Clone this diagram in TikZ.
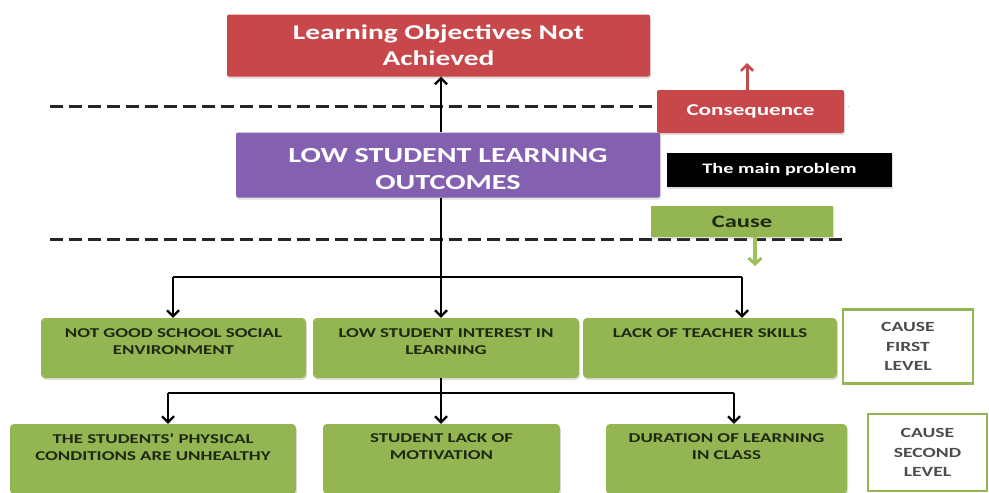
\documentclass[tikz,border=0pt]{standalone}
\usepackage{fontspec}
\setmainfont{Carlito}[FakeStretch=1.4]
\usetikzlibrary{arrows.meta,shadows}

\definecolor{leafgreen}{HTML}{93B552}
\definecolor{deepred}{HTML}{C8474B}
\definecolor{violet}{HTML}{8460B0}
\definecolor{inkgreen}{HTML}{1E2812}
\definecolor{cuegreen}{HTML}{9CC25A}

\tikzset{
  panel/.style={draw=none, inner sep=0pt, rounded corners=2pt,
    drop shadow={shadow xshift=1pt, shadow yshift=-2pt, opacity=0.25}},
  causebox/.style={panel, fill=leafgreen, rounded corners=4pt},
  causetext/.style={anchor=north, inner sep=0pt, align=center, text=inkgreen,
    font=\fontsize{13.5}{17}\selectfont\bfseries},
  levelbox/.style={draw=leafgreen, line width=2.5pt, fill=white, inner sep=0pt,
    align=center, text=black!70, font=\fontsize{14}{19.5}\selectfont\bfseries},
  conn/.style={line width=2.4pt, black},
  tip/.style={conn, -{Straight Barb[length=6pt, width=12pt, line width=2.2pt]}},
  divider/.style={line width=3pt, black!85, dash pattern=on 13pt off 6pt},
}

\begin{document}
\begin{tikzpicture}[x=1pt, y=-1pt]
\useasboundingbox (0,0) rectangle (989,493);

% dashed dividers
\coordinate (d1a) at (50,106);  \coordinate (d1b) at (848,106);
\coordinate (d2a) at (50,239);  \coordinate (d2b) at (845,239);
\draw[divider] (d1a) -- (d1b);
\draw[divider] (d2a) -- (d2b);

% consequence and main problem
\node[panel, fill=deepred, minimum width=423, minimum height=62, align=center,
      text=white, font=\fontsize{21}{26}\selectfont\bfseries]
  (goal) at (438.5,45.5) {Learning Objectives Not\\Achieved};
\node[panel, fill=violet, minimum width=424, minimum height=65] (prob) at (448,165) {};
\node[inner sep=0pt, align=center, text=white,
      font=\fontsize{21.5}{27}\selectfont\bfseries]
  (probtext) at ([yshift=-4pt]prob.center) {LOW STUDENT LEARNING\\OUTCOMES};

% legend tags on the right
\node[panel, fill=deepred, minimum width=187, minimum height=43, text=white,
      font=\fontsize{16.5}{20}\selectfont\bfseries]
  (conseq) at (750.5,111.5) {Consequence};
\node[panel, fill=black, rounded corners=0pt, minimum width=225, minimum height=34,
      text=white, font=\fontsize{14.5}{17}\selectfont\bfseries]
  (mainp) at (779.5,170) {The main problem};
\node[panel, fill=leafgreen, rounded corners=0pt, minimum width=182, minimum height=31,
      text=inkgreen, font=\fontsize{17.5}{20}\selectfont\bfseries]
  (cause) at (742,221.5) {Cause};
\coordinate (upend) at (747,63);
\coordinate (downend) at (755,266);
\draw[line width=3pt, deepred, -{Straight Barb[length=6pt, width=12pt, line width=2.6pt]}]
  (conseq.north -| upend) -- (upend);
\draw[line width=3.5pt, cuegreen, -{Straight Barb[length=6pt, width=13pt, line width=3pt]}]
  (cause.south -| downend) -- (downend);

% first-level causes
\node[causebox, minimum width=265, minimum height=60] (c1) at (173.5,348) {};
\node[causebox, minimum width=266, minimum height=60] (c2) at (446,348) {};
\node[causebox, minimum width=254, minimum height=60] (c3) at (710,348) {};
\node[causetext] (t1) at ([yshift=-11pt]c1.north) {NOT GOOD SCHOOL SOCIAL\\ENVIRONMENT};
\node[causetext] (t2) at ([yshift=-11pt]c2.north) {LOW STUDENT INTEREST IN\\LEARNING};
\node[causetext] (t3) at ([yshift=-11pt]c3.north) {LACK OF TEACHER SKILLS};
\node[levelbox, minimum width=130, minimum height=74] (lv1) at (908,346.5)
  {CAUSE\\FIRST\\LEVEL};

% second-level causes
\node[causebox, minimum width=286, minimum height=70] (s1) at (153,459) {};
\node[causebox, minimum width=237, minimum height=70] (s2) at (441.5,459) {};
\node[causebox, minimum width=241, minimum height=70] (s3) at (726.5,459) {};
\node[causetext] (u1) at ([yshift=-10pt]s1.north) {THE STUDENTS' PHYSICAL\\CONDITIONS ARE UNHEALTHY};
\node[causetext] (u2) at ([yshift=-10pt]s2.north) {STUDENT LACK OF\\MOTIVATION};
\node[causetext] (u3) at ([yshift=-10pt]s3.north) {DURATION OF LEARNING\\IN CLASS};
\node[levelbox, minimum width=119, minimum height=77] (lv2) at (927.5,452.5)
  {CAUSE\\SECOND\\LEVEL};

% connectors: main problem to consequence
\coordinate (spine) at (441,0);
\draw[tip] (prob.north -| spine) -- (goal.south -| spine);

% connectors: main problem to first-level causes
\coordinate (b1l) at (173,277);
\coordinate (b1r) at (742,277);
\draw[conn] (prob.south -| spine) -- (b1l -| spine);
\draw[conn] (b1l) -- (b1r);
\draw[tip] (b1l) -- (b1l |- c1.north);
\draw[tip] (prob.south -| spine) -- (c2.north -| spine);
\draw[tip] (b1r) -- (b1r |- c3.north);

% connectors: interest in learning to second-level causes
\coordinate (b2l) at (168,393);
\coordinate (b2r) at (734,393);
\draw[conn] (c2.south -| spine) -- (b2l -| spine);
\draw[conn] (b2l) -- (b2r);
\draw[tip] (b2l) -- (b2l |- s1.north);
\draw[tip] (c2.south -| spine) -- (s2.north -| spine);
\draw[tip] (b2r) -- (b2r |- s3.north);
\end{tikzpicture}
\end{document}
